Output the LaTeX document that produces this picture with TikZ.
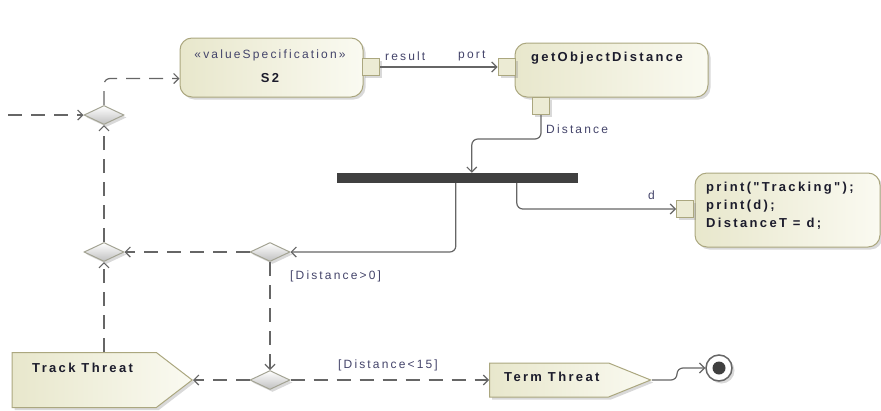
\documentclass[tikz,border=0pt]{standalone}
\usepackage{fontspec}
\setmainfont{Liberation Sans}
\newfontfamily\umlfont[LetterSpace=18]{Liberation Sans}
\usetikzlibrary{arrows.meta,shapes.geometric,shapes.symbols,shadows}

\definecolor{actline}{HTML}{ABA77F}
\definecolor{actleft}{HTML}{E8E7CC}
\definecolor{actright}{HTML}{FAFAF1}
\definecolor{pinfill}{HTML}{ECEBD4}
\definecolor{mergeline}{HTML}{A3A393}
\definecolor{flowgray}{HTML}{666666}
\definecolor{bargray}{HTML}{404040}
\definecolor{lblcol}{HTML}{44446A}
\definecolor{ttlcol}{HTML}{1C1C2C}

\begin{document}
\begin{tikzpicture}[x=1pt, y=-1pt,
    shad/.style={drop shadow={shadow xshift=2.5pt, shadow yshift=-2.5pt, opacity=0.3}},
    action/.style={draw=actline, line width=1pt, rounded corners=12pt, left color=actleft, right color=actright, shad, inner sep=0},
    pin/.style={draw=actline, line width=1pt, fill=pinfill, minimum size=17pt, inner sep=0, shad},
    sendsig/.style={signal, signal to=east, draw=actline, line width=1pt, left color=actleft, right color=actright, shad, inner sep=0},
    merge/.style={diamond, aspect=2, draw=mergeline, line width=1pt, top color=white, bottom color=black!25, minimum width=40pt, minimum height=19pt, inner sep=0, shad},
    flow/.style={draw=flowgray, line width=1.2pt, rounded corners=6pt, -{Straight Barb[length=5pt,width=10pt]}},
    dflow/.style={flow, dash pattern=on 14pt off 9pt},
    lbl/.style={text=lblcol, font=\umlfont\fontsize{12}{14}\selectfont, inner sep=0},
    ttl/.style={text=ttlcol, font=\umlfont\fontsize{13}{18}\selectfont\bfseries, inner sep=0, align=left}]

  \useasboundingbox (0,0) rectangle (881,410);

  % actions
  \node[action, minimum width=183pt, minimum height=59pt] (vs) at (271.5,67.5) {};
  \node[lbl] (vs-st) at (270,55) {«valueSpecification»};
  \node[ttl] (vs-nm) at (270,78) {S2};
  \node[action, minimum width=193pt, minimum height=54pt] (getd) at (611.5,70) {};
  \node[ttl, anchor=west] (getd-nm) at (531,58) {getObjectDistance};
  \node[action, minimum width=185pt, minimum height=74pt] (prt) at (787.5,210) {};
  \node[ttl, anchor=north west] (prt-nm) at (706,182) {print("Tracking");\\print(d);\\DistanceT = d;};

  % pins
  \node[pin] (p1) at (371,67) {};
  \node[pin] (p2) at (506.5,67) {};
  \node[pin] (p3) at (541,106) {};
  \node[pin] (p4) at (685,209) {};

  % fork bar
  \node[fill=bargray, minimum width=241pt, minimum height=10pt, inner sep=0] (bar) at (457.5,178) {};

  % merges / decisions
  \node[merge] (m1) at (104,115) {};
  \node[merge] (m2) at (104,252) {};
  \node[merge] (m3) at (270,252) {};
  \node[merge] (m4) at (270,380) {};

  % signals
  \node[sendsig, signal pointer angle=75, minimum width=180pt, minimum height=55pt, anchor=east] (trk) at (193,380) {};
  \node[ttl, anchor=west] (trk-nm) at (32,368) {Track Threat};
  \node[sendsig, signal pointer angle=44, minimum width=161pt, minimum height=34pt, anchor=east] (term) at (652,380) {};
  \node[ttl, anchor=west] (term-nm) at (504,377) {Term Threat};

  % final node
  \node[circle, draw=flowgray, line width=1.5pt, fill=white, minimum size=26pt, inner sep=0, shad] (fin) at (719,368) {};
  \fill[bargray] (fin.center) circle (6.5pt);

  \coordinate (in) at (8,115);

  % flows
  \draw[dflow] (in) -- (m1.west);
  \draw[dflow] (m1.north) |- ([yshift=-11pt]vs.west);
  \draw[flow] (p1.east) -- (p2.west);
  \node[lbl, anchor=west] (res) at (385,56) {result};
  \node[lbl, anchor=west] (prt-lbl) at (458,56) {port};
  \draw[flow] (p3.south) -- ++(0,24) -| ([xshift=135pt]bar.north west);
  \node[lbl, anchor=west] (dist) at (546,129) {Distance};
  \draw[flow] ([xshift=119pt]bar.south west) |- (m3.east);
  \draw[flow] ([xshift=180pt]bar.south west) |- (p4.west);
  \node[lbl, anchor=west] (d) at (648,195) {d};
  \draw[dflow] (m3.west) -- (m2.east);
  \draw[dflow] (m3.south) -- (m4.north);
  \node[lbl, anchor=west] (gt0) at (290,276) {[Distance>0]};
  \draw[dflow] (m4.west) -- (trk.east);
  \draw[dflow] (m4.east) -- (term.west);
  \node[lbl, anchor=west] (lt15) at (338,365) {[Distance<15]};
  \draw[dflow] (m2 |- trk.north) -- (m2.south);
  \draw[dflow] (m2.north) -- (m1.south);
  \draw[flow] (term.east) -- ++(25,0) |- (fin.west);
\end{tikzpicture}
\end{document}
